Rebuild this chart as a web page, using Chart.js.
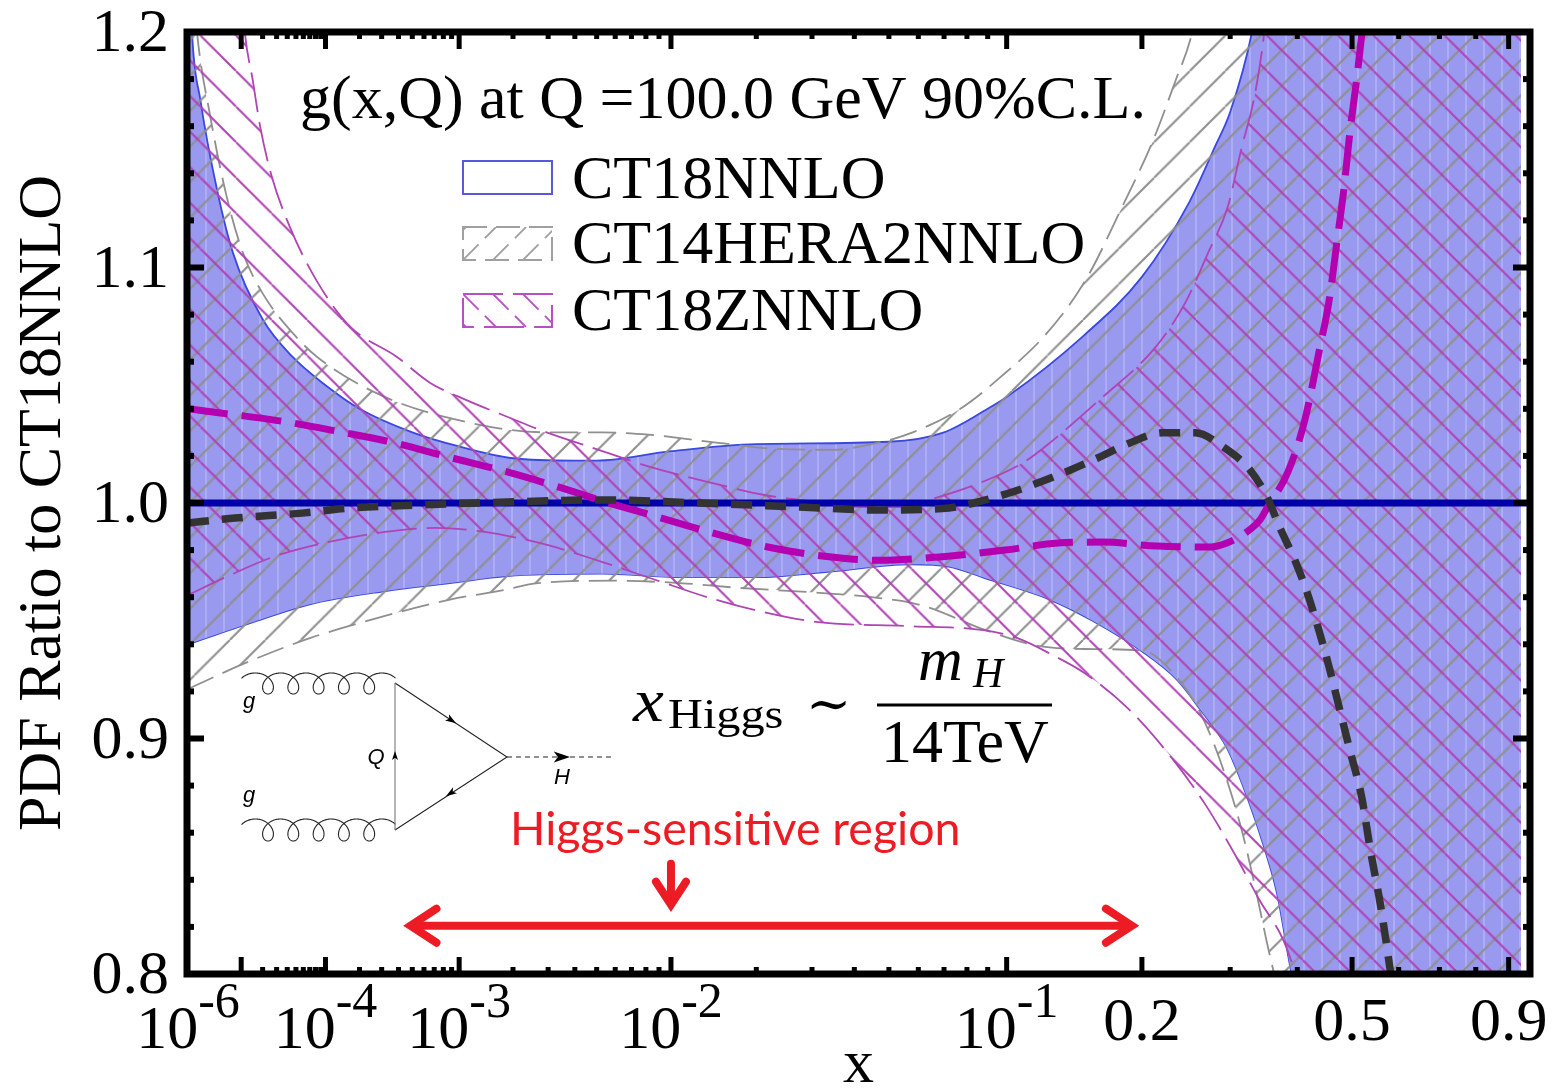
<!DOCTYPE html>
<html>
<head>
<meta charset="utf-8">
<title>PDF Ratio to CT18NNLO</title>
<script src="https://cdn.jsdelivr.net/npm/chart.js@4/dist/chart.umd.js"></script>
<style>
  html, body { margin: 0; padding: 0; background: #fff; }
  canvas { display: block; }
</style>
</head>
<body>
<canvas id="grafico" width="1554" height="1091"></canvas>
<script>
// Values
const blueUpperX = [1e-6, 1.24e-6, 1.9e-6, 4e-6, 7.5e-6, 2e-5, 4.6e-5, 1e-4, 2e-4, 5e-4, 1e-3, 2e-3, 4e-3, 5e-3, 1e-2, 2e-2, 5e-2, 7e-2, 9e-2, 0.1, 0.15, 0.2, 0.25, 0.28, 0.3, 0.33, 0.4, 0.94];
const blueUpperY = [1.25, 1.2, 1.171, 1.133, 1.106, 1.078, 1.062, 1.05, 1.04, 1.03, 1.024, 1.019, 1.018, 1.018, 1.022, 1.025, 1.026, 1.03, 1.04, 1.045, 1.071, 1.096, 1.128, 1.151, 1.166, 1.2, 1.32, 1.6];
const blueLowerX = [1e-6, 1.35e-5, 7e-5, 3.2e-4, 8.8e-4, 1.86e-3, 5.3e-3, 1.08e-2, 2e-2, 3.45e-2, 5.7e-2, 7.2e-2, 8.9e-2, 0.126, 0.157, 0.2, 0.2358, 0.261, 0.2957, 0.3245, 0.3475, 0.3675, 0.39, 0.94];
const blueLowerY = [0.94, 0.949, 0.957, 0.9626, 0.966, 0.969, 0.97, 0.9685, 0.9685, 0.971, 0.974, 0.973, 0.968, 0.959, 0.95, 0.937, 0.925, 0.913, 0.896, 0.874, 0.854, 0.834, 0.801, 0.4];
const greyUpperX = [1e-6, 1.6e-6, 3e-6, 5.9e-6, 1.07e-5, 2e-5, 4.65e-5, 8.3e-5, 2.9e-4, 8.8e-4, 2.95e-3, 5.3e-3, 8.2e-3, 1.39e-2, 2.3e-2, 3.45e-2, 4.8e-2, 5.8e-2, 7.7e-2, 9.6e-2, 0.124, 0.152, 0.182, 0.21, 0.234, 0.2525, 0.3, 0.94];
const greyUpperY = [1.25, 1.2, 1.164, 1.13, 1.106, 1.089, 1.072, 1.062, 1.046, 1.036, 1.03, 1.03, 1.029, 1.026, 1.023, 1.0226, 1.026, 1.03, 1.04, 1.053, 1.072, 1.095, 1.126, 1.153, 1.179, 1.199, 1.28, 1.6];
const greyLowerX = [1e-6, 1.14e-5, 7e-5, 2e-4, 8.8e-4, 1.79e-3, 2.67e-3, 6e-3, 1.08e-2, 1.73e-2, 3.05e-2, 4.47e-2, 6.1e-2, 8.9e-2, 0.1165, 0.151, 0.2, 0.2358, 0.261, 0.2866, 0.3148, 0.3345, 0.357, 0.94];
const greyLowerY = [0.921, 0.932, 0.9426, 0.949, 0.959, 0.963, 0.966, 0.967, 0.966, 0.964, 0.962, 0.96, 0.9566, 0.946, 0.9396, 0.938, 0.9374, 0.926, 0.912, 0.891, 0.862, 0.837, 0.807, 0.4];
const magentaUpperX = [1e-6, 1.14e-5, 1.48e-5, 1.85e-5, 2.6e-5, 4.3e-5, 8.3e-5, 1.66e-4, 3.9e-4, 6.6e-4, 1.08e-3, 1.95e-3, 2.95e-3, 5.1e-3, 8.5e-3, 1.36e-2, 2.13e-2, 3.13e-2, 4.27e-2, 5.4e-2, 6.4e-2, 8.6e-2, 0.11, 0.126, 0.163, 0.213, 0.245, 0.2716, 0.297, 0.3148, 0.3345, 0.3475, 0.4, 0.94];
const magentaUpperY = [1.5, 1.199, 1.179, 1.16, 1.139, 1.117, 1.094, 1.075, 1.062, 1.051, 1.044, 1.036, 1.03, 1.0226, 1.015, 1.009, 1.0034, 1.0004, 0.9983, 0.9983, 1.0013, 1.0085, 1.0174, 1.0255, 1.044, 1.066, 1.085, 1.106, 1.126, 1.15, 1.174, 1.199, 1.35, 1.7];
const magentaLowerX = [1e-6, 5.1e-6, 2.87e-5, 1.05e-4, 3.18e-4, 7.1e-4, 1.41e-3, 3e-3, 5.3e-3, 8.8e-3, 1.36e-2, 2.06e-2, 3.13e-2, 5.7e-2, 8.8e-2, 0.106, 0.1284, 0.151, 0.187, 0.2325, 0.2694, 0.305, 0.3415, 0.378, 0.395, 0.94];
const magentaLowerY = [0.9609, 0.968, 0.9774, 0.9834, 0.9877, 0.9894, 0.9877, 0.9821, 0.9749, 0.9672, 0.96, 0.954, 0.9494, 0.9477, 0.946, 0.9426, 0.9353, 0.9277, 0.9128, 0.8906, 0.8715, 0.8515, 0.8311, 0.814, 0.8013, 0.4];
const zRatioX = [1e-6, 3.77e-5, 1.36e-4, 3.77e-4, 8.5e-4, 1.71e-3, 3.25e-3, 5.5e-3, 9.2e-3, 1.43e-2, 2.18e-2, 3.27e-2, 4.7e-2, 6.7e-2, 9.9e-2, 0.1316, 0.1647, 0.2148, 0.2745, 0.2957, 0.3204, 0.3415, 0.352, 0.3847, 0.4128, 0.4372, 0.4562, 0.4704, 0.4838, 0.4957, 0.5098, 0.5197, 0.5305];
const zRatioY = [1.04, 1.0345, 1.0302, 1.0255, 1.0196, 1.014, 1.0072, 1.0004, 0.9936, 0.9872, 0.9813, 0.9774, 0.9757, 0.977, 0.98, 0.983, 0.9834, 0.9817, 0.9813, 0.983, 0.9872, 0.9928, 0.9979, 1.0132, 1.0353, 1.0638, 1.0864, 1.1106, 1.1332, 1.1574, 1.1809, 1.1991, 1.22];
const heraRatioX = [1e-6, 8e-6, 5.8e-5, 1.73e-4, 5.5e-4, 1.29e-3, 5.2e-3, 1.28e-2, 2.75e-2, 4.7e-2, 7.2e-2, 8.9e-2, 0.11, 0.1386, 0.163, 0.1887, 0.22, 0.2565, 0.2908, 0.3273, 0.352, 0.372, 0.396, 0.4165, 0.4372, 0.4541, 0.4763, 0.4974, 0.5197, 0.5367, 0.5602, 0.58, 0.59];
const heraRatioY = [0.9915, 0.9936, 0.9957, 0.9979, 0.9991, 1.0, 1.0013, 1.0, 0.9983, 0.997, 0.9979, 1.0013, 1.0064, 1.0136, 1.0196, 1.0255, 1.0298, 1.0298, 1.0238, 1.014, 1.0026, 0.9894, 0.9757, 0.9621, 0.946, 0.9319, 0.9119, 0.8936, 0.8749, 0.8536, 0.8281, 0.8026, 0.79];
const baseX = [1e-6, 0.97];
const baseY = [1, 1];

const legendNames = ["CT18NNLO", "CT14HERA2NNLO", "CT18ZNNLO"];
const yLabelTicks = [0.8, 0.9, 1.0, 1.1, 1.2];
const yMinorTicks = [0.82, 0.84, 0.86, 0.88, 0.92, 0.94, 0.96, 0.98, 1.02, 1.04, 1.06, 1.08, 1.12, 1.14, 1.16, 1.18];
const xPlainTicks = [0.2, 0.5, 0.9];
const xPowerTicks = [1e-6, 1e-4, 1e-3, 1e-2, 1e-1];
const xPowerLabels = ["-6", "-4", "-3", "-2", "-1"];
const xMajorMarks = [1e-5, 1e-4, 1e-3, 1e-2, 1e-1, 0.2, 0.5, 0.9];
const xMinorMarks = [
  2e-5, 3e-5, 4e-5, 5e-5, 6e-5, 7e-5, 8e-5, 9e-5,
  2e-4, 3e-4, 4e-4, 5e-4, 6e-4, 7e-4, 8e-4, 9e-4,
  2e-3, 3e-3, 4e-3, 5e-3, 6e-3, 7e-3, 8e-3, 9e-3,
  2e-2, 3e-2, 4e-2, 5e-2, 6e-2, 7e-2, 8e-2, 9e-2,
  0.3, 0.4, 0.6, 0.7, 0.8,
];
const higgsRange = [4.2e-4, 0.2];
const higgsCentre = 1e-2;
const higgsArrowY = 0.8205;

const serif = "'Liberation Serif', serif";

// Horizontal axis of the plot goes like x^0.2
class PowerScale extends Chart.LinearScale {
  getPixelForValue(value) {
    const a = Math.pow(this.options.min, 0.2);
    const b = Math.pow(this.options.max, 0.2);
    return this.left + ((Math.pow(value, 0.2) - a) / (b - a)) * this.width;
  }
  getValueForPixel(pixel) {
    const a = Math.pow(this.options.min, 0.2);
    const b = Math.pow(this.options.max, 0.2);
    return Math.pow(a + ((pixel - this.left) / this.width) * (b - a), 5);
  }
  buildTicks() {
    return [...xPowerTicks, ...xPlainTicks].map((v) => ({ value: v }));
  }
}
PowerScale.id = "power";
PowerScale.defaults = {};

// Same as linear, the labels just sit a little lower on the tick
class LowLabelScale extends Chart.LinearScale {
  _computeLabelItems(area) {
    const items = super._computeLabelItems(area);
    items.forEach((item) => {
      item.textOffset += 3;
    });
    return items;
  }
}
LowLabelScale.id = "lowlabel";
LowLabelScale.defaults = {};
Chart.register(PowerScale, LowLabelScale);

function hatch(size, color, width, rising, shift, zoom) {
  const tile = document.createElement("canvas");
  tile.width = size;
  tile.height = size;
  const c = tile.getContext("2d");
  c.strokeStyle = color;
  c.lineWidth = width;
  c.beginPath();
  for (let k = -1; k <= 1; k++) {
    if (rising) {
      c.moveTo(k * size, size);
      c.lineTo(k * size + size, 0);
    } else {
      c.moveTo(k * size, 0);
      c.lineTo(k * size + size, size);
    }
  }
  c.stroke();
  const p = c.createPattern(tile, "repeat");
  p.setTransform(new DOMMatrix().translate(shift, 0).scale(zoom));
  return p;
}

function blueFill() {
  const tile = document.createElement("canvas");
  tile.width = 18;
  tile.height = 4;
  const c = tile.getContext("2d");
  c.fillStyle = "#9999f0";
  c.fillRect(0, 0, 18, 4);
  c.fillStyle = "rgba(255,255,255,0.2)";
  c.fillRect(7, 0, 2, 4);
  return c.createPattern(tile, "repeat");
}

const ctx = document.getElementById("grafico").getContext("2d");
const greyHatch = hatch(35, "#8f8f8f", 2, true, 16.5, 35.55 / 35);
const magentaHatch = hatch(35, "#b044b4", 2, false, 22.8, 35.55 / 35);
const pts = (xs, ys) => xs.map((x, i) => ({ x: x, y: ys[i] }));

function bandLine(xs, ys, color, dash, order, fillTarget, fillColor) {
  return {
    data: pts(xs, ys),
    borderColor: color,
    borderWidth: 1.8,
    borderDash: dash || [],
    pointRadius: 0,
    cubicInterpolationMode: "monotone",
    fill: fillTarget === undefined ? false : fillTarget,
    backgroundColor: fillColor || "transparent",
    order: order,
    clip: 0,
  };
}

function thickLine(xs, ys, color, width, dash, order) {
  return {
    data: pts(xs, ys),
    borderColor: color,
    borderWidth: width,
    borderDash: dash,
    pointRadius: 0,
    cubicInterpolationMode: "monotone",
    fill: false,
    order: order,
    clip: 0,
  };
}

function marks(c, area, xs, ys, major, minor) {
  c.fillStyle = "#000";
  const put = (list, len, w, scale, horizontal) => {
    list.forEach((v) => {
      const p = scale.getPixelForValue(v);
      if (horizontal) {
        c.fillRect(p - w / 2, area.bottom - len, w, len);
        c.fillRect(p - w / 2, area.top, w, len);
      } else {
        c.fillRect(area.left, p - w / 2, len, w);
        c.fillRect(area.right - len, p - w / 2, len, w);
      }
    });
  };
  put(xMajorMarks, major, 5, xs, true);
  put(xMinorMarks, minor, 5, xs, true);
  put(yLabelTicks, major, 6, ys, false);
  put(yMinorTicks, minor, 6, ys, false);
}

function gluon(c, yc, b) {
  c.beginPath();
  [268, 293.3, 318.6, 343.9, 369.2].forEach((cx, n) => {
    const from = n === 0 ? -4.2 : -Math.PI;
    const to = n === 4 ? 4.2 : Math.PI;
    for (let t = from; t <= to; t += 0.06) {
      const px = cx + 4.03 * t - 11 * Math.sin(t);
      const py = yc + b * Math.cos(t);
      if (n === 0 && t === from) c.moveTo(px, py);
      else c.lineTo(px, py);
    }
  });
  c.stroke();
}

function head(c, x, y, angle, size) {
  c.save();
  c.translate(x, y);
  c.rotate(angle);
  c.beginPath();
  c.moveTo(size, 0);
  c.lineTo(-size * 0.8, -size * 0.6);
  c.lineTo(-size * 0.35, 0);
  c.lineTo(-size * 0.8, size * 0.6);
  c.closePath();
  c.fill();
  c.restore();
}

function feynman(c) {
  c.save();
  c.strokeStyle = "#222";
  c.fillStyle = "#000";
  c.lineWidth = 1.1;
  gluon(c, 683.5, 10.5);
  gluon(c, 830, 11);
  c.beginPath();
  c.moveTo(395, 683);
  c.lineTo(507, 757);
  c.lineTo(395, 830);
  c.stroke();
  c.strokeStyle = "#777";
  c.beginPath();
  c.moveTo(395, 683);
  c.lineTo(395, 830);
  c.stroke();
  c.strokeStyle = "#222";
  c.setLineDash([5, 4]);
  c.beginPath();
  c.moveTo(507, 757);
  c.lineTo(612, 757);
  c.stroke();
  c.setLineDash([]);
  head(c, 451, 720, 0.58, 6);
  head(c, 451, 793, 2.56, 6);
  head(c, 395, 756, -Math.PI / 2, 5);
  head(c, 561, 757, 0, 9);
  c.font = "italic 22px 'Liberation Sans', sans-serif";
  c.textAlign = "center";
  c.textBaseline = "alphabetic";
  c.fillText("g", 249, 708);
  c.fillText("g", 249, 802);
  c.fillText("Q", 376, 764);
  c.fillText("H", 562, 784);
  c.restore();
}

// Text stretched sideways, the formula font is wider than Liberation
function wideText(c, text, x, y, sx) {
  c.save();
  c.translate(x, y);
  c.scale(sx, 1);
  c.fillText(text, 0, 0);
  c.restore();
}

function formula(c) {
  c.save();
  c.fillStyle = "#000";
  c.textBaseline = "alphabetic";
  c.textAlign = "left";
  c.font = "italic 62px " + serif;
  wideText(c, "x", 633, 721, 1.12);
  c.font = "42px " + serif;
  wideText(c, "Higgs", 668, 728, 1.15);
  c.font = "54px 'DejaVu Serif', serif";
  c.fillText("∼", 806, 722);
  c.fillRect(877, 703.5, 175, 3);
  c.font = "italic 62px " + serif;
  c.fillText("m", 918, 680);
  c.font = "italic 42px " + serif;
  c.fillText("H", 973, 687);
  c.font = "62px " + serif;
  c.fillText("14TeV", 881, 762);
  c.restore();
}

function higgsMarks(c, xs, ys) {
  const x0 = xs.getPixelForValue(higgsRange[0]);
  const x1 = xs.getPixelForValue(higgsRange[1]);
  const xm = xs.getPixelForValue(higgsCentre);
  const y = ys.getPixelForValue(higgsArrowY);
  c.save();
  c.strokeStyle = "#ed1c24";
  c.fillStyle = "#ed1c24";
  c.lineWidth = 8;
  c.lineCap = "round";
  c.lineJoin = "miter";
  c.beginPath();
  c.moveTo(x0 + 12, y);
  c.lineTo(x1 - 14, y);
  c.stroke();
  c.beginPath();
  c.moveTo(x0 + 35, y - 17);
  c.lineTo(x0 + 9, y);
  c.lineTo(x0 + 35, y + 17);
  c.stroke();
  c.beginPath();
  c.moveTo(x1 - 36, y - 17);
  c.lineTo(x1 - 10, y);
  c.lineTo(x1 - 36, y + 17);
  c.stroke();
  c.beginPath();
  c.moveTo(xm, y - 62);
  c.lineTo(xm, y - 26);
  c.stroke();
  c.beginPath();
  c.moveTo(xm - 15, y - 44);
  c.lineTo(xm, y - 21);
  c.lineTo(xm + 15, y - 44);
  c.stroke();
  c.font = "46.5px Lato, sans-serif";
  c.textAlign = "left";
  c.textBaseline = "alphabetic";
  c.fillText("Higgs-sensitive region", 510, 845);
  c.restore();
}

function legendBox(c) {
  const rows = [
    { y: 161, color: "#5858dc", hatchDir: 0, dash: [] },
    { y: 227, color: "#a0a0a0", hatchDir: 1, dash: [24, 9] },
    { y: 294, color: "#b850c4", hatchDir: -1, dash: [40, 10] },
  ];
  const base = [198, 263, 330];
  c.save();
  rows.forEach((r, i) => {
    if (r.hatchDir) {
      c.save();
      c.beginPath();
      c.rect(463, r.y, 89, 33);
      c.clip();
      c.strokeStyle = r.color;
      c.lineWidth = 1.8;
      c.setLineDash([22, 9]);
      c.beginPath();
      for (let k = -1; k < 4; k++) {
        const x = 463 + k * 30;
        if (r.hatchDir > 0) {
          c.moveTo(x, r.y + 33);
          c.lineTo(x + 33, r.y);
        } else {
          c.moveTo(x, r.y);
          c.lineTo(x + 33, r.y + 33);
        }
      }
      c.stroke();
      c.restore();
    }
    c.strokeStyle = r.color;
    c.lineWidth = 2;
    c.setLineDash(r.dash);
    c.strokeRect(463, r.y, 89, 33);
    c.setLineDash([]);
    c.fillStyle = "#000";
    c.font = "62px " + serif;
    c.textAlign = "left";
    c.textBaseline = "alphabetic";
    c.fillText(legendNames[i], 572, base[i]);
  });
  c.font = "62px " + serif;
  c.fillText("g(x,Q) at Q =100.0 GeV 90%C.L.", 300, 118);
  c.restore();
}

const decoracao = {
  id: "decoracao",
  afterDraw(chart) {
    const c = chart.ctx;
    const area = chart.chartArea;
    const xs = chart.scales.x;
    const ys = chart.scales.y;
    marks(c, area, xs, ys, 17, 7);
    // Frame
    c.save();
    c.strokeStyle = "#000";
    c.lineWidth = 7;
    c.strokeRect(area.left, area.top, area.right - area.left, area.bottom - area.top);
    c.restore();

    // Labels with an exponent
    c.save();
    c.fillStyle = "#000";
    c.textBaseline = "alphabetic";
    xPowerTicks.forEach((v, i) => {
      const p = xs.getPixelForValue(v);
      c.font = "62px " + serif;
      const w1 = c.measureText("10").width;
      c.font = "50px " + serif;
      const w2 = c.measureText(xPowerLabels[i]).width;
      const left = p - (w1 + w2) / 2;
      c.textAlign = "left";
      c.font = "62px " + serif;
      c.fillText("10", left, 1048);
      c.font = "50px " + serif;
      c.fillText(xPowerLabels[i], left + w1, 1017);
    });
    c.restore();

    legendBox(c);
    feynman(c);
    formula(c);
    higgsMarks(c, xs, ys);
  },
};

// Axis labels must not push the plot area in
function noPadding(s) {
  s.paddingLeft = 0;
  s.paddingRight = 0;
  s.paddingTop = 0;
  s.paddingBottom = 0;
}

const grafico = new Chart(ctx, {
  type: "line",
  plugins: [decoracao],
  data: {
    datasets: [
      bandLine(blueLowerX, blueLowerY, "#3a48e0", null, 90),
      bandLine(blueUpperX, blueUpperY, "#3a48e0", null, 89, 0, blueFill()),
      bandLine(greyLowerX, greyLowerY, "#8f8f8f", [28, 10], 80),
      bandLine(greyUpperX, greyUpperY, "#8f8f8f", [28, 10], 79, 2, greyHatch),
      bandLine(magentaLowerX, magentaLowerY, "#b044b4", [40, 10], 70),
      bandLine(magentaUpperX, magentaUpperY, "#b044b4", [40, 10], 69, 4, magentaHatch),
      thickLine(baseX, baseY, "#0000a8", 7, [], 30),
      thickLine(zRatioX, zRatioY, "#b400b0", 7, [40, 14], 20),
      thickLine(heraRatioX, heraRatioY, "#333333", 7.5, [21, 13], 10),
    ],
  },
  options: {
    responsive: false,
    animation: false,
    devicePixelRatio: 1,
    layout: { padding: { top: 32, right: 24, left: 0, bottom: 0 } },
    plugins: {
      legend: { display: false },
      tooltip: { enabled: false },
    },
    scales: {
      x: {
        type: "power",
        min: 9.47e-7,
        max: 0.9702,
        grid: { display: false },
        border: { display: false },
        afterFit: (s) => {
          s.height = 1091 - 974;
          noPadding(s);
        },
        ticks: {
          autoSkip: false,
          maxRotation: 0,
          padding: 5,
          color: "#000",
          font: { family: serif, size: 62 },
          callback: (v) => (xPlainTicks.includes(v) ? String(v) : ""),
        },
        title: {
          display: true,
          text: "x",
          color: "#000",
          font: { family: serif, size: 62, lineHeight: 0.8 },
          padding: { top: 0, bottom: 0 },
        },
      },
      y: {
        type: "lowlabel",
        min: 0.8,
        max: 1.2,
        grid: { display: false },
        border: { display: false },
        afterBuildTicks: (s) => {
          s.ticks = yLabelTicks.map((v) => ({ value: v }));
        },
        afterFit: (s) => {
          s.width = 187;
          noPadding(s);
        },
        ticks: {
          padding: 10,
          color: "#000",
          font: { family: serif, size: 62 },
          callback: (v) => v.toFixed(1),
        },
        title: {
          display: true,
          text: "PDF Ratio to CT18NNLO",
          color: "#000",
          font: { family: serif, size: 62 },
          padding: { top: 7, bottom: 0 },
        },
      },
    },
  },
});
</script>
</body>
</html>
